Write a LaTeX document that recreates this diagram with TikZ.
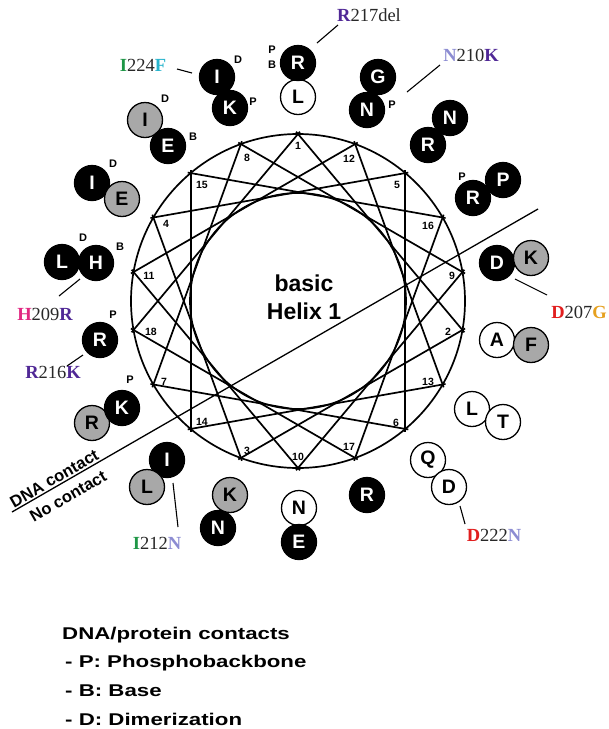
\documentclass[tikz,border=0pt]{standalone}
\usepackage{fontspec}
\usepackage{graphicx}
\setmainfont{Liberation Serif}
\setsansfont{Liberation Sans}
\usetikzlibrary{calc}
\definecolor{purp}{RGB}{80,40,150}
\definecolor{lpurp}{RGB}{140,140,210}
\definecolor{grn}{RGB}{30,150,70}
\definecolor{cyn}{RGB}{40,180,205}
\definecolor{mag}{RGB}{225,40,130}
\definecolor{mred}{RGB}{225,30,30}
\definecolor{org}{RGB}{230,160,30}
\definecolor{txtdark}{RGB}{40,40,40}
\definecolor{resgray}{RGB}{168,168,168}
\begin{document}
\begin{tikzpicture}[x=1pt,y=-1pt,
  wheel/.style={line width=1.7pt, draw=black},
  chord/.style={wheel, shorten <=-3pt, shorten >=-3pt},
  res/.style={circle, draw=black, line width=1.3pt, minimum size=35pt, inner sep=0pt, font=\sffamily\bfseries\fontsize{19.5}{19.5}\selectfont},
  blk/.style={res, fill=black, text=white},
  gry/.style={res, fill=resgray, text=black},
  wht/.style={res, fill=white, text=black},
  tag/.style={font=\sffamily\bfseries\fontsize{11}{11}\selectfont, inner sep=0pt},
  num/.style={font=\sffamily\bfseries\fontsize{10.5}{10.5}\selectfont, inner sep=0pt},
  mut/.style={font=\rmfamily\fontsize{18.5}{18.5}\selectfont, inner sep=0pt, text=txtdark},
  conn/.style={line width=1.1pt, draw=black},
  leg/.style={font=\sffamily\bfseries\fontsize{17}{17}\selectfont, inner sep=0pt, anchor=base west},
  side/.style={font=\sffamily\bfseries\fontsize{16.5}{16.5}\selectfont, inner sep=0pt}
]
\useasboundingbox[fill=white] (0,0) rectangle (609,729);

% ---------- helical wheel ----------
\coordinate (C) at (298,301);
\draw[wheel] (C) circle[radius=167pt];
\draw[wheel] (C) circle[radius=108pt];
\foreach \n in {1,...,18}{
  \pgfmathsetmacro{\ang}{(\n-1)*100-90}
  \coordinate (v\n) at ($(C)+(\ang:167)$);
}
\foreach \n in {1,...,17}{
  \pgfmathtruncatemacro{\m}{\n+1}
  \draw[chord] (v\n) -- (v\m);
}
\draw[chord] (v18) -- (v1);
\foreach \n/\px/\py in {1/298/146, 2/448/332, 3/247/451, 4/166/224, 5/397/185, 6/396/423,
  7/164/382, 8/247/158, 9/452/276, 10/298/457, 11/149/276, 12/349/159, 13/428/382,
  14/202/422, 15/202/185, 16/428/226, 17/349/447, 18/151/332}
  \node[num] (n\n) at (\px,\py) {\n};

\node[font=\sffamily\bfseries\fontsize{23}{28}\selectfont, align=center, inner sep=0pt] (title) at (304,297) {basic\\Helix 1};

% ---------- DNA contact divider ----------
\coordinate (dA) at (12,512);
\coordinate (dB) at (538,209);
\draw[line width=1.3pt] (dA) -- (dB)
  node[pos=0.088, sloped, above=1.5pt, side] (dnatxt) {DNA contact}
  node[pos=0.093, sloped, below=8pt, side] (notxt) {No contact};

% ---------- residues ----------
\node[wht] (L1) at (298,97) {L};
\node[blk] (R1) at (298,63) {R};
\node[tag] (tR1p) at (272,50) {P};
\node[tag] (tR1b) at (272,65) {B};

\node[blk] (I1) at (217,77) {I};
\node[blk] (K1) at (230,108) {K};
\node[tag] (tI1) at (238,60) {D};
\node[tag] (tK1) at (253,102) {P};

\node[gry] (I2) at (145,120) {I};
\node[blk] (E1) at (168,146) {E};
\node[tag] (tI2) at (165,99) {D};
\node[tag] (tE1) at (193,137) {B};

\node[blk] (I3) at (92,183) {I};
\node[gry] (E2) at (122,199) {E};
\node[tag] (tI3) at (113,164) {D};

\node[blk] (L2) at (62,262) {L};
\node[blk] (H1) at (96,263) {H};
\node[tag] (tL2) at (83,238) {D};
\node[tag] (tH1) at (120,247) {B};

\node[blk] (R2) at (100,340) {R};
\node[tag] (tR2) at (113,315) {P};

\node[gry] (R3) at (92,423) {R};
\node[blk] (K2) at (122,408) {K};
\node[tag] (tK2) at (130,380) {P};

\node[blk] (I4) at (167,460) {I};
\node[gry] (L3) at (147,487) {L};

\node[gry] (K3) at (230,495) {K};
\node[blk] (N1) at (218,528) {N};

\node[wht] (N2) at (299,508) {N};
\node[blk] (E3) at (299,542) {E};

\node[blk] (R4) at (367,495) {R};

\node[wht] (Q1) at (428,460) {Q};
\node[wht] (D1) at (449,487) {D};

\node[wht] (L4) at (472,409) {L};
\node[wht] (T1) at (503,422) {T};

\node[wht] (A1) at (497,340) {A};
\node[gry] (F1) at (531,345) {F};

\node[blk] (D2) at (497,263) {D};
\node[gry] (K4) at (531,258) {K};

\node[blk] (P1) at (503,180) {P};
\node[blk] (R5) at (473,198) {R};
\node[tag] (tR5) at (462,177) {P};

\node[blk] (N3) at (450,118) {N};
\node[blk] (R6) at (428,145) {R};

\node[blk] (G1) at (378,77) {G};
\node[blk] (N4) at (367,110) {N};
\node[tag] (tN4) at (392,105) {P};

% ---------- mutation labels ----------
\node[mut] (mR217) at (369,15) {\textcolor{purp}{\bfseries R}217del};
\node[mut] (mN210) at (471,55) {\textcolor{lpurp}{\bfseries N}210\textcolor{purp}{\bfseries K}};
\node[mut] (mI224) at (143,65) {\textcolor{grn}{\bfseries I}224\textcolor{cyn}{\bfseries F}};
\node[mut] (mH209) at (45,314) {\textcolor{mag}{\bfseries H}209\textcolor{purp}{\bfseries R}};
\node[mut] (mR216) at (53,372) {\textcolor{purp}{\bfseries R}216\textcolor{purp}{\bfseries K}};
\node[mut] (mD207) at (579,312) {\textcolor{mred}{\bfseries D}207\textcolor{org}{\bfseries G}};
\node[mut] (mI212) at (157,543) {\textcolor{grn}{\bfseries I}212\textcolor{lpurp}{\bfseries N}};
\node[mut] (mD222) at (494,535) {\textcolor{mred}{\bfseries D}222\textcolor{lpurp}{\bfseries N}};

% ---------- connectors to labels ----------
\coordinate (a1) at (317,43);  \coordinate (b1) at (338,25);
\coordinate (a2) at (407,92);  \coordinate (b2) at (440,65);
\coordinate (a3) at (192,73);  \coordinate (b3) at (177,69);
\coordinate (a4) at (80,279);  \coordinate (b4) at (59,296);
\coordinate (a5) at (83,355);  \coordinate (b5) at (67,366);
\coordinate (a6) at (515,279); \coordinate (b6) at (547,295);
\coordinate (a7) at (173,483); \coordinate (b7) at (178,527);
\coordinate (a8) at (460,506); \coordinate (b8) at (465,524);
\foreach \k in {1,...,8} \draw[conn] (a\k) -- (b\k);

% ---------- legend ----------
\node[leg] (lg1) at (62,639) {\scalebox{1.31}[1]{DNA/protein contacts}};
\node[leg] (lg2) at (65,667) {\scalebox{1.31}[1]{- P: Phosphobackbone}};
\node[leg] (lg3) at (65,696) {\scalebox{1.31}[1]{- B: Base}};
\node[leg] (lg4) at (65,725) {\scalebox{1.31}[1]{- D: Dimerization}};
\end{tikzpicture}
\end{document}
